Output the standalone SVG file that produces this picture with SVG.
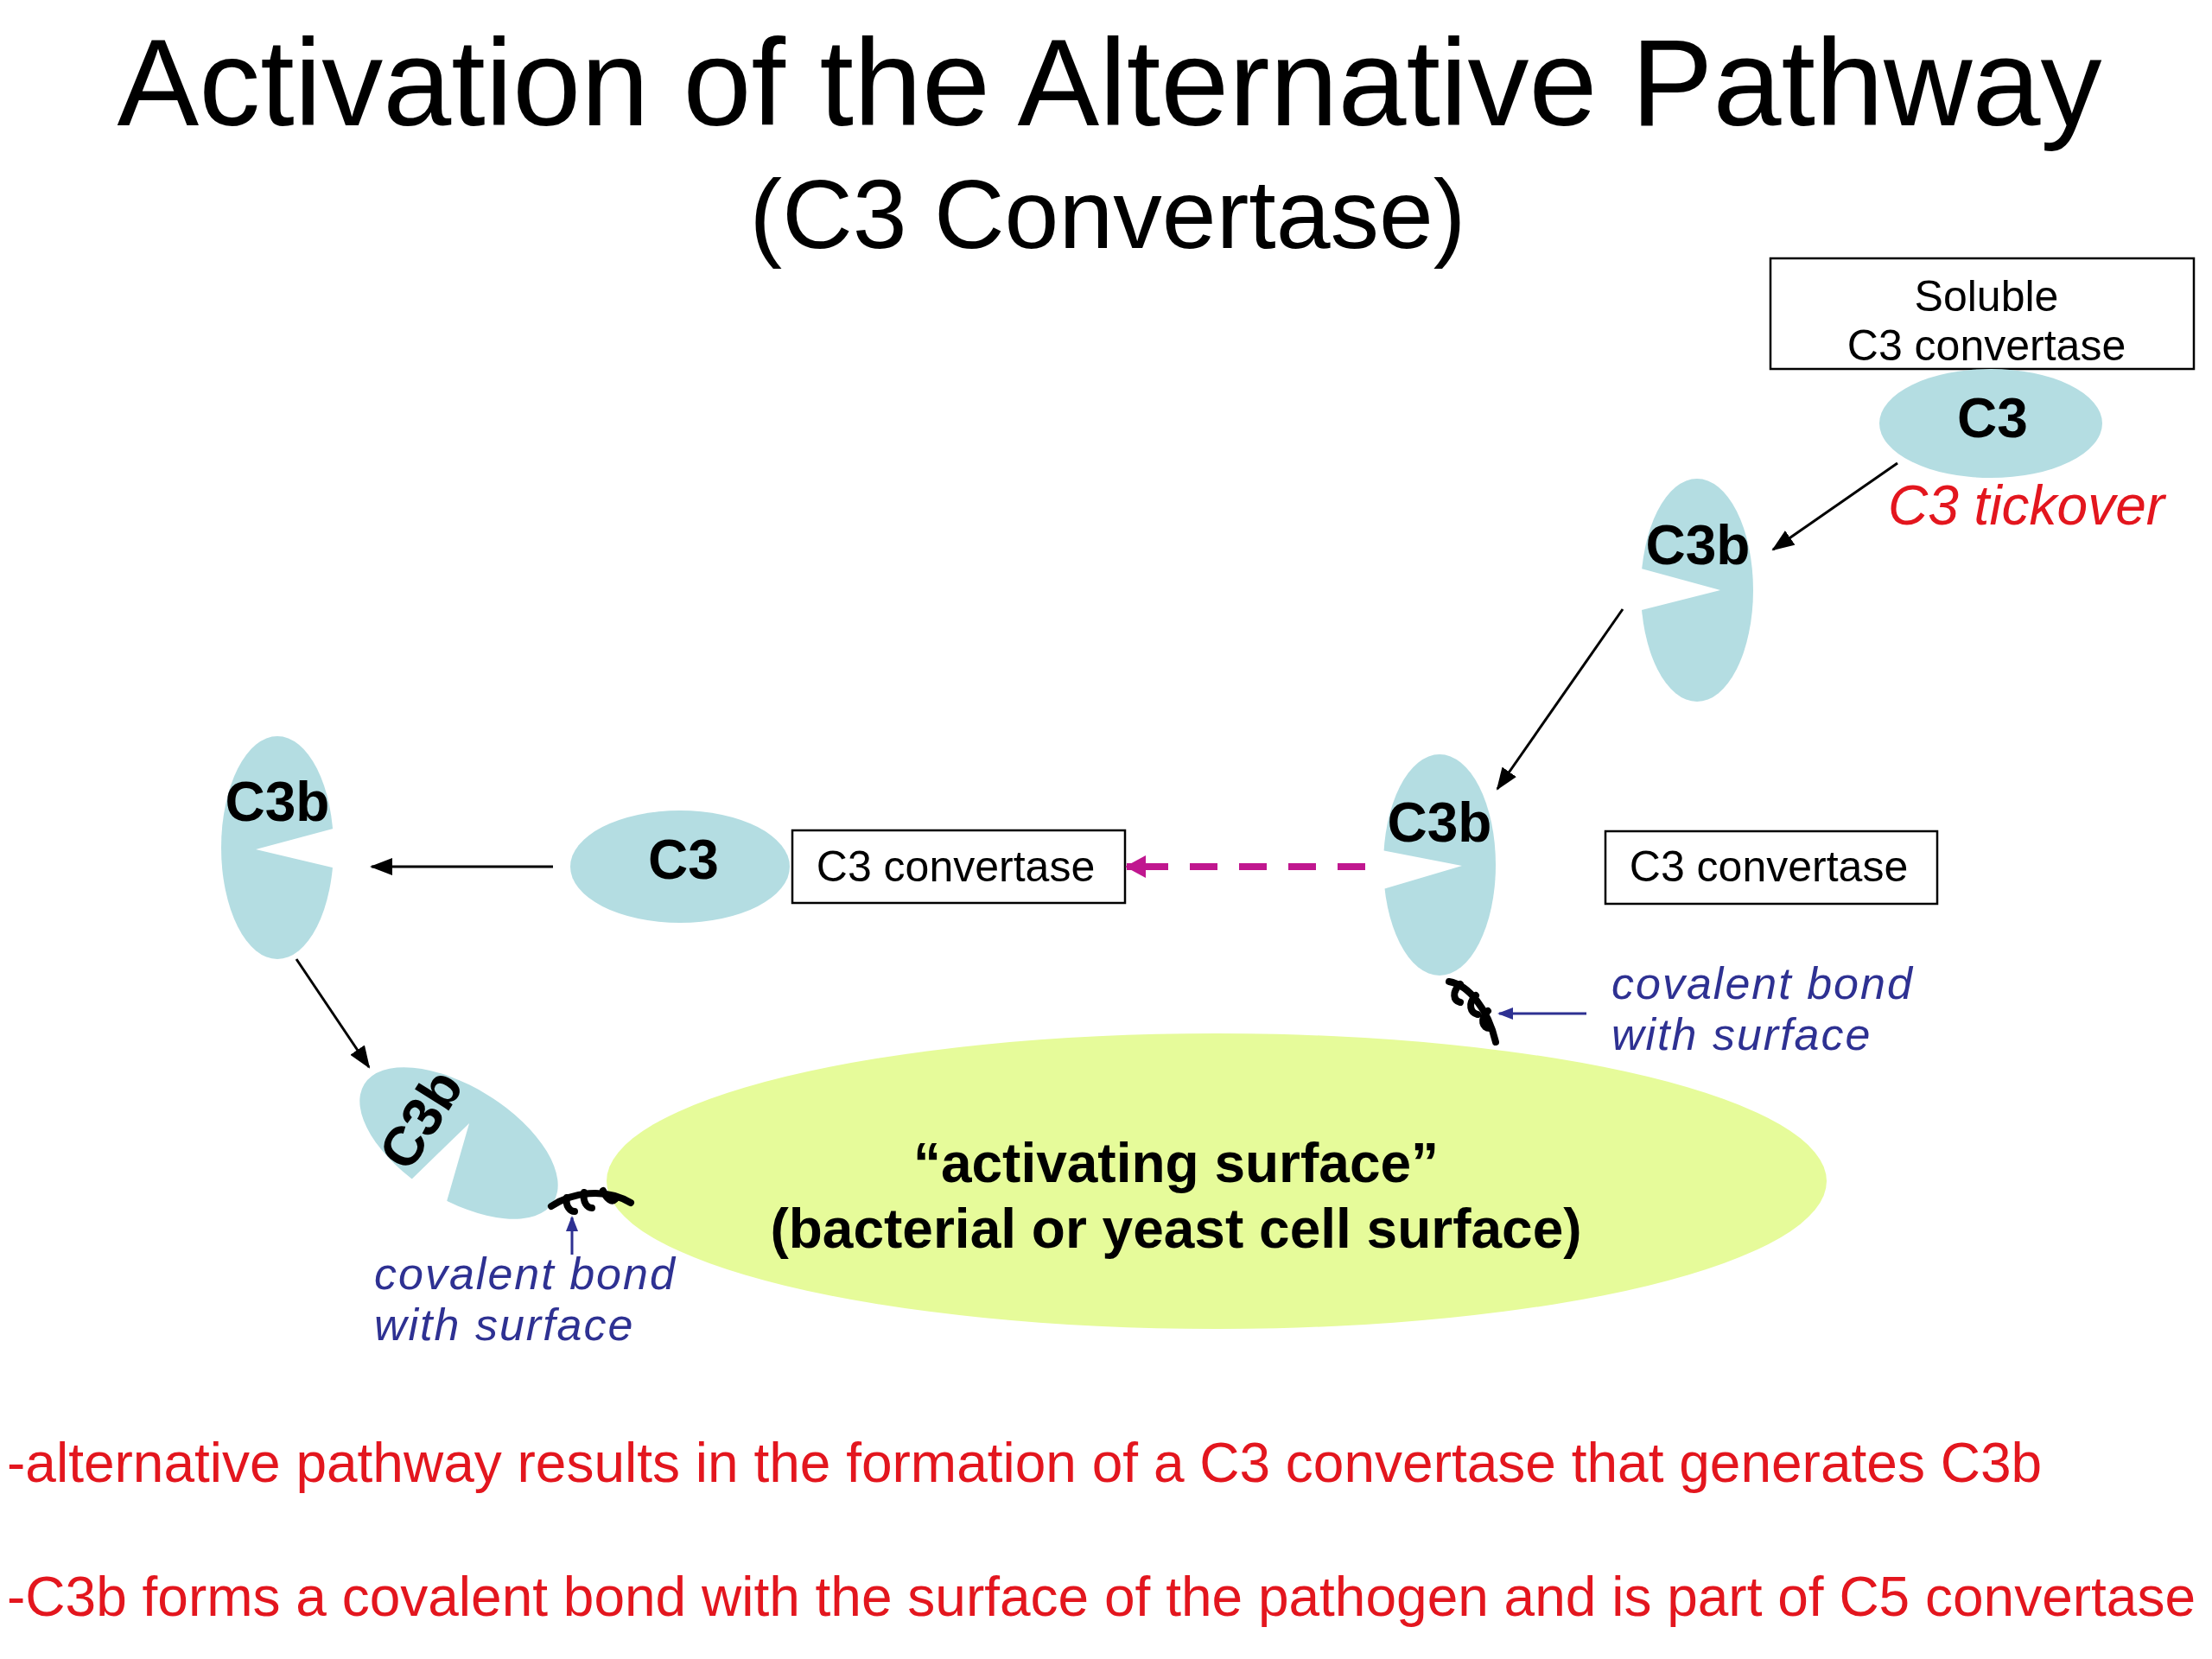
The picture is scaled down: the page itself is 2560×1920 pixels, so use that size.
<svg xmlns="http://www.w3.org/2000/svg" width="2560" height="1920" viewBox="0 0 2560 1920">
<defs>
<style>
text{font-family:"Liberation Sans",Arial,sans-serif}
.title{font-size:142px;fill:#000;text-anchor:middle}
.sub{font-size:113px;fill:#000;text-anchor:middle}
.mol{fill:#b4dde2}
.notch{fill:#fff}
.lbl{font-size:64px;font-weight:bold;fill:#000;text-anchor:middle}
.box{fill:#fff;stroke:#000;stroke-width:2.5}
.boxt{font-size:50px;fill:#000;text-anchor:middle}
.blue{font-size:52px;font-style:italic;fill:#2e3192;letter-spacing:2px}
.red{font-size:64px;fill:#e3161e}
.conn{stroke:#000;stroke-width:3;fill:none}
.bconn{stroke:#2e3192;stroke-width:3;fill:none}
.bond{stroke:#000;stroke-width:8;fill:none;stroke-linecap:round}
</style>
<marker id="ah" viewBox="0 0 26 20" refX="24" refY="10" markerWidth="26" markerHeight="20" markerUnits="userSpaceOnUse" orient="auto">
<path d="M0,0 L26,10 L0,20 z" fill="#000"/>
</marker>
<marker id="ahb" viewBox="0 0 18 14" refX="16" refY="7" markerWidth="18" markerHeight="14" markerUnits="userSpaceOnUse" orient="auto">
<path d="M0,0 L18,7 L0,14 z" fill="#2e3192"/>
</marker>
<marker id="ahm" viewBox="0 0 24 26" refX="22" refY="13" markerWidth="24" markerHeight="26" markerUnits="userSpaceOnUse" orient="auto">
<path d="M0,0 L24,13 L0,26 z" fill="#c0178f"/>
</marker>
</defs>
<rect width="2560" height="1920" fill="#fff"/>

<g id="title">
<text class="title" x="1284" y="145">Activation of the Alternative Pathway</text>
<text class="sub" x="1282" y="287">(C3 Convertase)</text>
</g>

<g id="surface">
<ellipse cx="1408" cy="1367" rx="706" ry="171" fill="#e6fb9a"/>
<text class="lbl" x="1361" y="1368">“activating surface”</text>
<text class="lbl" x="1361" y="1444">(bacterial or yeast cell surface)</text>
</g>

<g id="soluble-box">
<rect class="box" x="2049" y="299" width="490" height="128"/>
<text class="boxt" x="2299" y="360">Soluble</text>
<text class="boxt" x="2299" y="417">C3 convertase</text>
</g>

<g id="c3-top">
<ellipse class="mol" cx="2304" cy="490" rx="129" ry="63"/>
<text class="lbl" x="2306" y="506">C3</text>
</g>

<g id="tickover">
<text class="red" x="2185" y="607" font-style="italic" font-size="62">C3 tickover</text>
</g>

<g id="c3b-upper" transform="translate(1964,683)">
<ellipse class="mol" cx="0" cy="0" rx="65" ry="129"/>
<polygon class="notch" points="-72,-27 27,0 -72,25"/>
<text class="lbl" x="1" y="-30">C3b</text>
</g>

<g id="c3b-middle" transform="translate(1666,1001)">
<ellipse class="mol" cx="0" cy="0" rx="65" ry="128"/>
<polygon class="notch" points="-72,-18 26,1 -72,30"/>
<text class="lbl" x="0" y="-27">C3b</text>
</g>

<g id="box-right">
<rect class="box" x="1858" y="962" width="384" height="84"/>
<text class="boxt" x="2047" y="1020">C3 convertase</text>
</g>

<g id="box-middle">
<rect class="box" x="917" y="961" width="385" height="84"/>
<text class="boxt" x="1106" y="1020">C3 convertase</text>
</g>

<g id="c3-middle">
<ellipse class="mol" cx="787" cy="1003" rx="127" ry="65"/>
<text class="lbl" x="791" y="1017">C3</text>
</g>

<g id="c3b-left" transform="translate(321,981)">
<ellipse class="mol" cx="0" cy="0" rx="65" ry="129"/>
<polygon class="notch" points="72,-24 -25,2 72,25"/>
<text class="lbl" x="0" y="-31">C3b</text>
</g>

<g id="c3b-bottom" transform="translate(531,1323) rotate(-58)">
<ellipse class="mol" cx="0" cy="0" rx="65" ry="129"/>
<polygon class="notch" points="-72,-26 26,-2 -72,26"/>
<text class="lbl" x="0" y="-30">C3b</text>
</g>

<g id="bond-right">
<path class="bond" d="M1677,1136 C1700,1140 1722,1168 1731,1206"/>
<path class="bond" stroke-width="7" d="M1690,1139 C1680,1148 1682,1158 1690,1160 M1708,1152 C1698,1162 1702,1172 1710,1174 M1722,1170 C1712,1180 1716,1190 1724,1190"/>
</g>

<g id="bond-bottom">
<path class="bond" d="M638,1396 C662,1380 700,1374 730,1392"/>
<path class="bond" stroke-width="7" d="M656,1386 C654,1396 660,1402 665,1402 M676,1380 C674,1392 680,1398 685,1398 M698,1378 C702,1388 708,1392 712,1388"/>
</g>

<g id="label-right">
<text class="blue" x="1865" y="1156">covalent bond</text>
<text class="blue" x="1865" y="1215">with surface</text>
</g>
<g id="label-bottom">
<text class="blue" x="433" y="1492">covalent bond</text>
<text class="blue" x="433" y="1551">with surface</text>
</g>

<g id="connectors">
<line class="conn" x1="2196" y1="536" x2="2052" y2="636" marker-end="url(#ah)"/>
<line class="conn" x1="1878" y1="705" x2="1733" y2="913" marker-end="url(#ah)"/>
<line class="conn" x1="640" y1="1003" x2="430" y2="1003" marker-end="url(#ah)"/>
<line class="conn" x1="343" y1="1110" x2="427" y2="1235" marker-end="url(#ah)"/>
<line stroke="#c0178f" stroke-width="8" x1="1580" y1="1003" x2="1323" y2="1003" stroke-dasharray="32,25"/>
<line stroke="#c0178f" stroke-width="8" x1="1330" y1="1003" x2="1304" y2="1003" marker-end="url(#ahm)"/>
<line class="bconn" x1="1836" y1="1173" x2="1735" y2="1173" marker-end="url(#ahb)"/>
<line class="bconn" x1="662" y1="1452" x2="662" y2="1409" marker-end="url(#ahb)"/>
</g>

<g id="notes">
<text class="red" x="8" y="1715">-alternative pathway results in the formation of a C3 convertase that generates C3b</text>
<text class="red" x="8" y="1870">-C3b forms a covalent bond with the surface of the pathogen and is part of C5 convertase</text>
</g>
</svg>
